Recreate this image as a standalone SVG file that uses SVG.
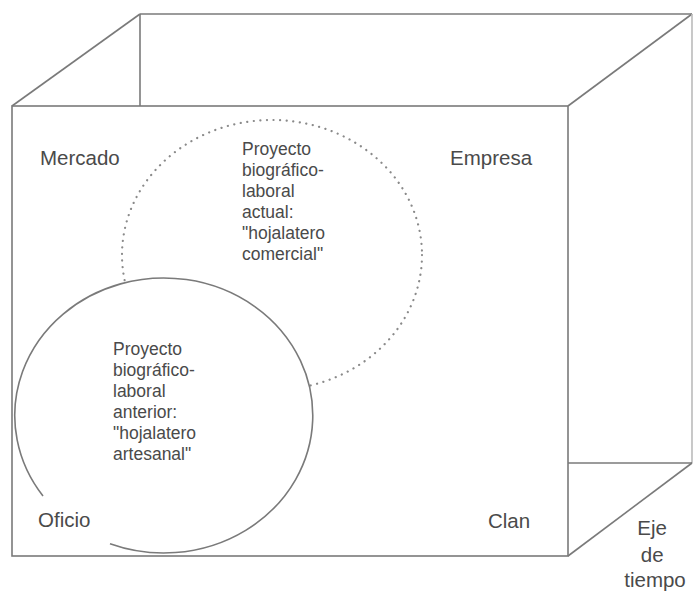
<svg xmlns="http://www.w3.org/2000/svg" width="693" height="592" viewBox="0 0 693 592">
  <style>
    .edge { fill: none; stroke: #7a7a7a; stroke-width: 1.6; }
    .lbl { font-family: "Liberation Sans", Arial, sans-serif; fill: #4a4a4a; font-size: 20.5px; }
    .inner { font-family: "Liberation Sans", Arial, sans-serif; fill: #4a4a4a; font-size: 17.5px; }
  </style>
  <rect width="693" height="592" fill="#fff"/>
  <g id="box" class="edge">
    <line x1="140" y1="14" x2="692" y2="14"/>
    <line x1="140" y1="14" x2="140" y2="106"/>
    <line x1="140" y1="14" x2="12" y2="106"/>
    <line x1="692" y1="14" x2="568" y2="106"/>
    <line x1="692" y1="14" x2="692" y2="463" stroke="#bbb"/>
    <line x1="568" y1="463" x2="692" y2="463"/>
    <line x1="692" y1="463" x2="568" y2="556"/>
  </g>
  <g id="proyecto-actual">
    <ellipse cx="272" cy="255" rx="150" ry="135" fill="none" stroke="#8a8a8a" stroke-width="2.2" stroke-dasharray="0.1 6.5" stroke-linecap="round"/>
    <text class="inner">
      <tspan x="242" y="155">Proyecto</tspan>
      <tspan x="242" y="176">biográfico-</tspan>
      <tspan x="242" y="197">laboral</tspan>
      <tspan x="242" y="218">actual:</tspan>
      <tspan x="242" y="239">"hojalatero</tspan>
      <tspan x="242" y="260">comercial"</tspan>
    </text>
  </g>
  <g id="proyecto-anterior">
    <ellipse cx="164" cy="415.5" rx="149" ry="137.5" fill="#fff" stroke="none"/>
    <path class="edge" d="M 43 496 A 149 137.5 0 1 1 110 543.7"/>
    <text class="inner">
      <tspan x="113" y="355">Proyecto</tspan>
      <tspan x="113" y="376">biográfico-</tspan>
      <tspan x="113" y="397">laboral</tspan>
      <tspan x="113" y="418">anterior:</tspan>
      <tspan x="113" y="439">"hojalatero</tspan>
      <tspan x="113" y="460">artesanal"</tspan>
    </text>
  </g>
  <g id="front-face">
    <rect class="edge" x="12" y="106" width="556" height="450"/>
  </g>
  <g id="mercado"><text class="lbl" x="40" y="165">Mercado</text></g>
  <g id="empresa"><text class="lbl" x="450" y="165">Empresa</text></g>
  <g id="oficio"><text class="lbl" x="38" y="527">Oficio</text></g>
  <g id="clan"><text class="lbl" x="488" y="528">Clan</text></g>
  <g id="eje-tiempo">
    <text class="lbl" text-anchor="middle" font-size="19.5">
      <tspan x="655" y="535">Eje</tspan>
      <tspan x="655" y="562">de</tspan>
      <tspan x="655" y="587">tiempo</tspan>
    </text>
  </g>
  <g id="connectors"></g>
</svg>
